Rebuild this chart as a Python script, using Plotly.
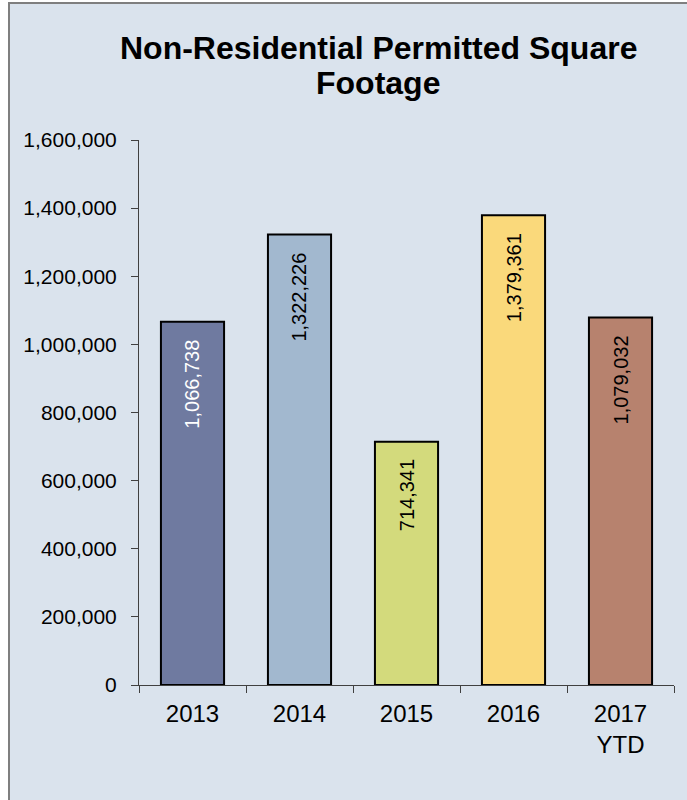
import plotly.graph_objects as go

categories = ["2013", "2014", "2015", "2016", "2017<br>YTD"]
values = [1066738, 1322226, 714341, 1379361, 1079032]
labels = ["1,066,738", "1,322,226", "714,341", "1,379,361", "1,079,032"]
bar_colors = ["#6f7aa0", "#a2b8cf", "#d3da7c", "#fad97b", "#b7826e"]
label_colors = ["#ffffff", "#000000", "#000000", "#000000", "#000000"]
y_ticks = [0, 200000, 400000, 600000, 800000, 1000000, 1200000, 1400000, 1600000]
y_tick_text = ["0", "200,000", "400,000", "600,000", "800,000", "1,000,000",
               "1,200,000", "1,400,000", "1,600,000"]
title_lines = ["Non-Residential Permitted Square", "Footage"]

BG = "#dae3ed"
FONT = "Liberation Sans, Arial, sans-serif"
W, H = 687, 800
L, R, T, B = 139, 13, 140, 115
pw, ph = W - L - R, H - T - B

fig = go.Figure()
fig.add_trace(go.Bar(
    x=categories, y=values,
    marker=dict(color=bar_colors, line=dict(color="#000000", width=2)),
    hoverinfo="skip",
))

for i, (v, t, col) in enumerate(zip(values, labels, label_colors)):
    fig.add_annotation(
        x=i, y=v, text=t, showarrow=False, textangle=-90,
        yanchor="top", xanchor="center", yshift=-16,
        font=dict(family=FONT, size=20, color=col),
    )

def px_x(p):
    return (p - L) / pw

def px_y(p):
    return (H - B - p) / ph

# title lines
for line, cy in zip(title_lines, [48, 83]):
    fig.add_annotation(
        xref="paper", yref="paper", x=px_x(378), y=px_y(cy),
        xanchor="center", yanchor="middle", showarrow=False,
        text="<b>" + line + "</b>",
        font=dict(family=FONT, size=32, color="#000000"),
    )

fig.add_shape(type="rect", xref="paper", yref="paper",
              x0=px_x(9), x1=px_x(W + 20), y0=px_y(H + 20), y1=px_y(3),
              fillcolor=BG, line=dict(color="#7f7f7f", width=2), layer="below")

fig.update_layout(
    width=W, height=H,
    margin=dict(l=L, r=R, t=T, b=B),
    paper_bgcolor="#ffffff",
    plot_bgcolor="rgba(0,0,0,0)",
    bargap=0.41,
    showlegend=False,
    font=dict(family=FONT, color="#000000"),
    xaxis=dict(
        type="category",
        categoryorder="array", categoryarray=categories,
        range=[-0.5, len(categories) - 0.5],
        showline=True, linecolor="#404040", linewidth=1,
        ticks="outside", ticklen=7, tickcolor="#404040", tickson="boundaries",
        tickfont=dict(size=24), tickangle=0,
        ticklabelstandoff=7,
        showgrid=False, zeroline=False,
        fixedrange=True,
    ),
    yaxis=dict(
        range=[0, 1600000],
        tickvals=y_ticks, ticktext=y_tick_text,
        showline=True, linecolor="#404040", linewidth=1,
        ticks="outside", ticklen=7, tickcolor="#404040",
        tickfont=dict(size=21),
        ticklabelstandoff=10,
        showgrid=False, zeroline=False,
        fixedrange=True,
    ),
)

fig.write_html("out.html", config={"displayModeBar": False},
               post_script="document.body.style.margin='0';")
